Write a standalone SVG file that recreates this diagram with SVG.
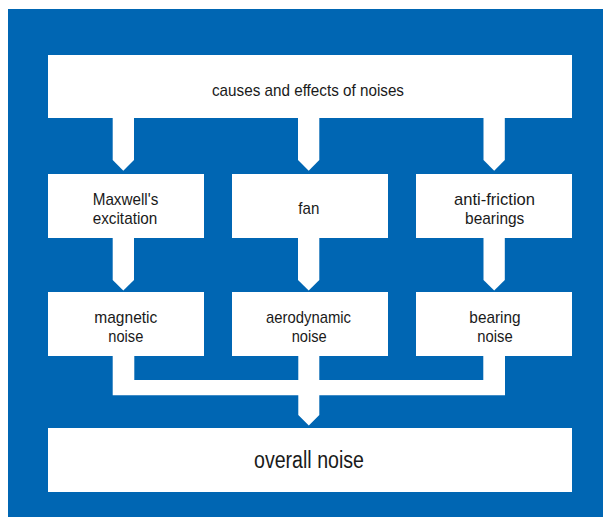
<svg xmlns="http://www.w3.org/2000/svg" width="603" height="517" viewBox="0 0 603 517">
<style>
.box{fill:#ffffff}
.conn{fill:#ffffff}
.t{font-family:"Liberation Sans",Arial,sans-serif;font-size:17px;fill:#1a1a1a;text-anchor:middle}
.tb{font-family:"Liberation Sans",Arial,sans-serif;font-size:23px;fill:#1a1a1a;text-anchor:middle}
</style>
<rect x="0" y="0" width="603" height="517" fill="#ffffff"/>
<rect x="8" y="9" width="595" height="508" fill="#0066b3"/>
<g id="connectors">
  <polygon class="conn" points="112.7,118 134,118 134,160 123.3,170.7 112.7,160"/>
  <polygon class="conn" points="298,118 319.3,118 319.3,160 308.7,170.7 298,160"/>
  <polygon class="conn" points="483.5,118 504.8,118 504.8,160 494.2,170.7 483.5,160"/>
  <polygon class="conn" points="112.7,237 134,237 134,280 123.3,290.5 112.7,280"/>
  <polygon class="conn" points="298,237 319.3,237 319.3,280 308.7,290.5 298,280"/>
  <polygon class="conn" points="483.5,237 504.8,237 504.8,280 494.2,290.5 483.5,280"/>
  <polygon class="conn" points="112.7,356 134.3,356 134.3,380 298.3,380 298.3,356 319.3,356 319.3,380 483.3,380 483.3,356 505,356 505,395.3 319.3,395.3 319.3,415 308.8,425.5 298.3,415 298.3,395.3 112.7,395.3"/>
</g>
<g id="causes">
  <rect class="box" x="48" y="55" width="524" height="63"/>
  <text class="t" x="308" y="96" font-size="19" textLength="192" lengthAdjust="spacingAndGlyphs">causes and effects of noises</text>
</g>
<g id="maxwell">
  <rect class="box" x="48" y="174" width="156" height="64"/>
  <text class="t" x="125.5" y="205" textLength="65.6" lengthAdjust="spacingAndGlyphs">Maxwell's</text>
  <text class="t" x="125" y="224.3" textLength="64.7" lengthAdjust="spacingAndGlyphs">excitation</text>
</g>
<g id="fan">
  <rect class="box" x="232" y="174" width="156" height="64"/>
  <text class="t" x="308.8" y="214.3" font-size="19" textLength="21" lengthAdjust="spacingAndGlyphs">fan</text>
</g>
<g id="bearings">
  <rect class="box" x="416" y="174" width="156" height="64"/>
  <text class="t" x="494.5" y="205" textLength="81" lengthAdjust="spacingAndGlyphs">anti-friction</text>
  <text class="t" x="494.7" y="224.3" textLength="59.3" lengthAdjust="spacingAndGlyphs">bearings</text>
</g>
<g id="magnetic">
  <rect class="box" x="48" y="292" width="156" height="64"/>
  <text class="t" x="125.8" y="322.8" textLength="63" lengthAdjust="spacingAndGlyphs">magnetic</text>
  <text class="t" x="125.8" y="341.7" textLength="35" lengthAdjust="spacingAndGlyphs">noise</text>
</g>
<g id="aerodynamic">
  <rect class="box" x="232" y="292" width="156" height="64"/>
  <text class="t" x="308.5" y="322.8" textLength="85" lengthAdjust="spacingAndGlyphs">aerodynamic</text>
  <text class="t" x="309.2" y="341.7" textLength="35" lengthAdjust="spacingAndGlyphs">noise</text>
</g>
<g id="bearing-noise">
  <rect class="box" x="416" y="292" width="156" height="64"/>
  <text class="t" x="495" y="322.8" textLength="51.3" lengthAdjust="spacingAndGlyphs">bearing</text>
  <text class="t" x="495" y="341.7" textLength="35.4" lengthAdjust="spacingAndGlyphs">noise</text>
</g>
<g id="overall">
  <rect class="box" x="48" y="428" width="524" height="64"/>
  <text class="tb" x="309" y="468" textLength="110" lengthAdjust="spacingAndGlyphs">overall noise</text>
</g>
</svg>
